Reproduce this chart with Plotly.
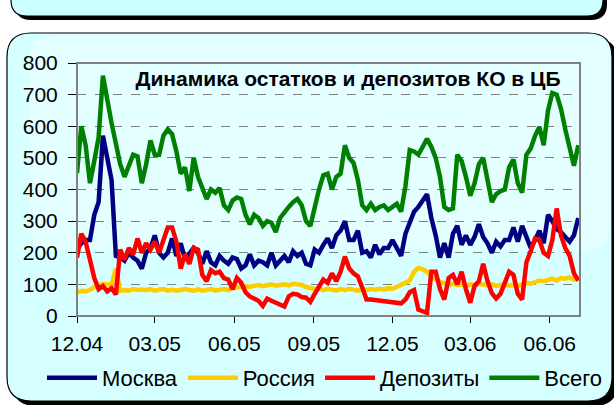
import plotly.graph_objects as go
import pandas as pd

# ---- data, one value every 5 days from 01.12.2004 ----
dates = pd.date_range("2004-12-01", periods=117, freq="5D")

moskva = [210, 230, 240, 240, 320, 360, 570, 500, 430, 190,
          185, 175, 200, 185, 175, 150, 200, 215, 255, 200,
          185, 200, 245, 190, 230, 180, 200, 215, 200, 165,
          205, 170, 160, 190, 175, 165, 185, 180, 150, 160,
          195, 160, 175, 170, 160, 200, 160, 175, 190, 170,
          205, 190, 200, 165, 160, 210, 200, 225, 245, 215,
          255, 270, 300, 240, 240, 270, 200, 205, 185, 225,
          195, 215, 215, 240, 215, 190, 260, 300, 330, 345,
          365, 385, 310, 255, 185, 230, 185, 260, 285, 225,
          255, 225, 250, 290, 250, 230, 200, 235, 220, 240,
          240, 280, 235, 285, 250, 215, 240, 270, 230, 320,
          300, 275, 265, 250, 235, 255, 310]

rossiya = [75, 80, 78, 82, 92, 98, 102, 100, 98, 150,
           80, 82, 80, 85, 82, 84, 82, 85, 80, 83,
           85, 80, 83, 80, 82, 85, 82, 80, 84, 80,
           82, 85, 80, 83, 85, 82, 88, 90, 92, 95,
           92, 95, 98, 94, 97, 100, 96, 98, 100, 97,
           102, 100, 98, 92, 88, 85, 88, 82, 86, 84,
           80, 85, 82, 86, 83, 80, 84, 82, 85, 83,
           86, 84, 88, 86, 92, 98, 105, 112, 140, 152,
           148, 140, 125, 115, 108, 104, 100, 102, 98, 100,
           95, 100, 98, 102, 100, 97, 100, 95, 98, 100,
           96, 98, 95, 100, 105, 102, 108, 112, 110, 115,
           118, 112, 120, 118, 122, 115, 118]

depozity = [185, 260, 235, 170, 120, 85, 95, 78, 88, 68,
            210, 178, 215, 195, 245, 200, 230, 210, 235, 200,
            245, 280, 280, 235, 150, 195, 165, 215, 210, 130,
            110, 145, 135, 140, 120, 115, 85, 120, 105, 75,
            62, 55, 48, 32, 55, 48, 42, 35, 30, 62,
            70, 68, 60, 58, 45, 70, 90, 115, 105, 135,
            110, 140, 188, 150, 135, 125, 90, 52, 52, 50,
            48, 48, 46, 44, 42, 40, 52, 75, 82, 20,
            15, 10, 140, 140, 85, 52, 120, 130, 100, 140,
            85, 42, 95, 110, 165, 110, 72, 55, 70, 105,
            140, 130, 70, 52, 170, 205, 245, 240, 200, 190,
            240, 340, 255, 215, 190, 135, 112]

vsego = [452, 600, 540, 420, 490, 565, 760, 680, 610, 545,
         480, 440, 480, 510, 505, 420, 480, 555, 510, 510,
         570, 590, 575, 520, 450, 470, 395, 500, 440, 400,
         370, 400, 390, 405, 350, 335, 365, 375, 370, 320,
         290, 320, 310, 285, 300, 295, 265, 310, 330, 345,
         360, 370, 350, 300, 285, 350, 400, 445, 450, 400,
         440, 450, 540, 500, 484, 430, 350, 335, 355, 335,
         345, 350, 335, 345, 355, 330, 410, 525, 520, 510,
         536, 560, 535, 500, 440, 345, 335, 340, 510, 490,
         440, 380, 420, 480, 500, 425, 360, 385, 395, 400,
         470, 495, 420, 390, 510, 530, 570, 598, 540, 650,
         705, 700, 655, 590, 525, 475, 540]

series_names = ["Москва", "Россия", "Депозиты", "Всего"]
series_colors = ["#000080", "#FFCC00", "#FF0000", "#008000"]

tick_dates = ["2004-12-01", "2005-03-01", "2005-06-01", "2005-09-01",
              "2005-12-01", "2006-03-01", "2006-06-01"]
tick_labels = ["12.04", "03.05", "06.05", "09.05", "12.05", "03.06", "06.06"]

title_text = "Динамика остатков и депозитов КО в ЦБ"

# ---- layout geometry (pixels) ----
W, H = 614, 405
PL, PR, PT, PB = 77, 580, 63, 316


def px(x):
    return (x - PL) / (PR - PL)


def py(y):
    return (PB - y) / (PB - PT)


def rrect(x0, y0, x1, y1, r):
    return (f"M{px(x0 + r)},{py(y0)} L{px(x1 - r)},{py(y0)} "
            f"Q{px(x1)},{py(y0)} {px(x1)},{py(y0 + r)} "
            f"L{px(x1)},{py(y1 - r)} Q{px(x1)},{py(y1)} {px(x1 - r)},{py(y1)} "
            f"L{px(x0 + r)},{py(y1)} Q{px(x0)},{py(y1)} {px(x0)},{py(y1 - r)} "
            f"L{px(x0)},{py(y0 + r)} Q{px(x0)},{py(y0)} {px(x0 + r)},{py(y0)} Z")


fig = go.Figure()
for name, vals, col in zip(series_names, [moskva, rossiya, depozity, vsego], series_colors):
    fig.add_trace(go.Scatter(x=dates, y=vals, name=name, mode="lines",
                             line=dict(color=col, width=4.5)))

shapes = []
# bottom part of the panel above
shapes.append(dict(type="path", path=rrect(15, -40, 607, 20, 16), xref="paper", yref="paper",
                   fillcolor="black", line=dict(width=0), layer="below"))
shapes.append(dict(type="path", path=rrect(11, -40, 603, 16, 16), xref="paper", yref="paper",
                   fillcolor="#CCFFFF", line=dict(color="black", width=1.2), layer="below"))
# main panel with shadow
shapes.append(dict(type="path", path=rrect(12, 38, 618, 406, 24), xref="paper", yref="paper",
                   fillcolor="black", line=dict(width=0), layer="below"))
shapes.append(dict(type="path", path=rrect(7, 33, 612, 401, 24), xref="paper", yref="paper",
                   fillcolor="#D6FFFF", line=dict(color="black", width=1.2), layer="below"))
# lighter upper-right part of the panel (soft gradient look)
shapes.append(dict(type="path", path=rrect(30, 36, 609, 250, 22), xref="paper", yref="paper",
                   fillcolor="rgba(255,255,255,0.35)", line=dict(width=0), layer="below"))
# plot area frame
shapes.append(dict(type="rect", x0=0, x1=1, y0=0, y1=1, xref="paper", yref="paper",
                   line=dict(color="#808080", width=2), layer="above"))

fig.update_layout(
    width=W, height=H,
    margin=dict(l=PL, r=W - PR, t=PT, b=H - PB, autoexpand=False),
    paper_bgcolor="white",
    plot_bgcolor="#99CCFF",
    font=dict(family="Liberation Sans, Arial, sans-serif", color="black", size=21),
    title=dict(text=f"<b>{title_text}</b>", x=348 / W, xanchor="center",
               y=1 - 79 / H, yanchor="middle", font=dict(size=21)),
    showlegend=True,
    legend=dict(orientation="h", x=px(42), xanchor="left", y=py(378), yanchor="middle",
                bgcolor="rgba(0,0,0,0)", font=dict(size=22), itemwidth=50,
                tracegroupgap=0),
    shapes=shapes,
)
fig.update_xaxes(range=["2004-12-01", "2006-07-06"], tickvals=tick_dates, ticktext=tick_labels,
                 showline=True, linecolor="black", linewidth=1, ticks="outside", ticklen=6,
                 tickcolor="black", showgrid=False, zeroline=False, ticklabelstandoff=3,
                 automargin=False)
fig.update_yaxes(range=[0, 800], dtick=100, showline=True, linecolor="black", linewidth=1,
                 ticks="outside", ticklen=8, tickcolor="black", showgrid=True,
                 gridcolor="#808080", griddash="dash", gridwidth=1, zeroline=False,
                 ticklabelstandoff=6, automargin=False)

fig.write_html("out.html", config={"displayModeBar": False},
               post_script="document.body.style.margin='0';document.body.style.overflow='hidden';")
